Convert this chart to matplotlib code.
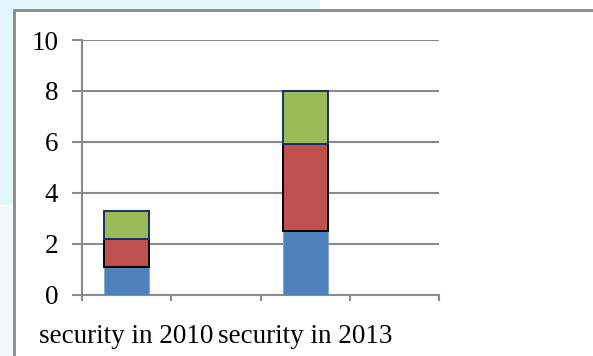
import matplotlib
matplotlib.use("Agg")
import matplotlib.pyplot as plt
from matplotlib.patches import Rectangle

categories = ["security in 2010", "", "security in 2013", ""]
series1 = [1.1, 0, 2.5, 0]
series2 = [1.1, 0, 3.4, 0]
series3 = [1.1, 0, 2.1, 0]
yticks = [0, 2, 4, 6, 8, 10]

plt.rcParams['font.family'] = ['Liberation Serif', 'DejaVu Serif']

W, H = 593, 356
fig = plt.figure(figsize=(W / 100, H / 100), dpi=100)
fig.patch.set_facecolor('white')

# background decoration
fig.add_artist(Rectangle((0, 1 - 9 / H), 320 / W, 9 / H, transform=fig.transFigure,
                         facecolor='#e2f6fb', edgecolor='none', zorder=0))
fig.add_artist(Rectangle((0, 1 - 205 / H), 14 / W, 205 / H, transform=fig.transFigure,
                         facecolor='#e2f6fb', edgecolor='none', zorder=0))
fig.add_artist(Rectangle((0, 0), 14 / W, 1 - 207 / H, transform=fig.transFigure,
                         facecolor='#f5f7f8', edgecolor='none', zorder=0))
# chart frame
fig.add_artist(Rectangle((14 / W, -0.1), 1.0, 1.1 - 9.5 / H, transform=fig.transFigure,
                         facecolor='white', edgecolor='#8a8a8a', linewidth=2.0, zorder=1))

ax = fig.add_axes([82 / W, 1 - 294.5 / H, (439 - 82) / W, (294.5 - 40) / H])
ax.set_zorder(2)
ax.patch.set_alpha(0)

x = list(range(len(categories)))
idx = [i for i in x if series1[i] + series2[i] + series3[i] > 0]
pos = [i + 0.5 for i in idx]
s1 = [series1[i] for i in idx]
s2 = [series2[i] for i in idx]
s3 = [series3[i] for i in idx]
bottom3 = [a + b for a, b in zip(s1, s2)]
bw = 0.505
ax.bar(pos, s1, width=bw, color='#4f81bd', edgecolor='#7fa3d3', linewidth=0.6, zorder=3)
ax.bar(pos, s2, width=bw, bottom=s1, color='#c0504d', edgecolor='black', linewidth=1.4, zorder=3)
ax.bar(pos, s3, width=bw, bottom=bottom3, color='#9bbb59', edgecolor='#17306a', linewidth=1.4, zorder=3)

ax.set_xlim(0, len(categories))
ax.set_ylim(0, 10)
ax.set_yticks(yticks)
ax.set_yticklabels([str(t) for t in yticks])
ax.yaxis.grid(True, color='#8a8a8a', linewidth=1.5, zorder=0)
ax.set_axisbelow(True)

ax.set_xticks(range(len(categories) + 1))
ax.set_xticklabels([])
ax.set_xticks([i + 0.5 for i in x], minor=True)
ax.set_xticklabels(categories, minor=True)
ax.tick_params(axis='x', which='major', length=4, width=1.5, color='#8a8a8a', direction='out')
ax.tick_params(axis='x', which='minor', length=0, pad=21, labelsize=19.5)
ax.tick_params(axis='y', length=7, width=1.5, color='#8a8a8a', pad=10, labelsize=19.5)

for s in ['top', 'right']:
    ax.spines[s].set_visible(False)
for s in ['left', 'bottom']:
    ax.spines[s].set_color('#8a8a8a')
    ax.spines[s].set_linewidth(1.5)

fig.savefig('out.png', dpi=100, facecolor=fig.get_facecolor())
